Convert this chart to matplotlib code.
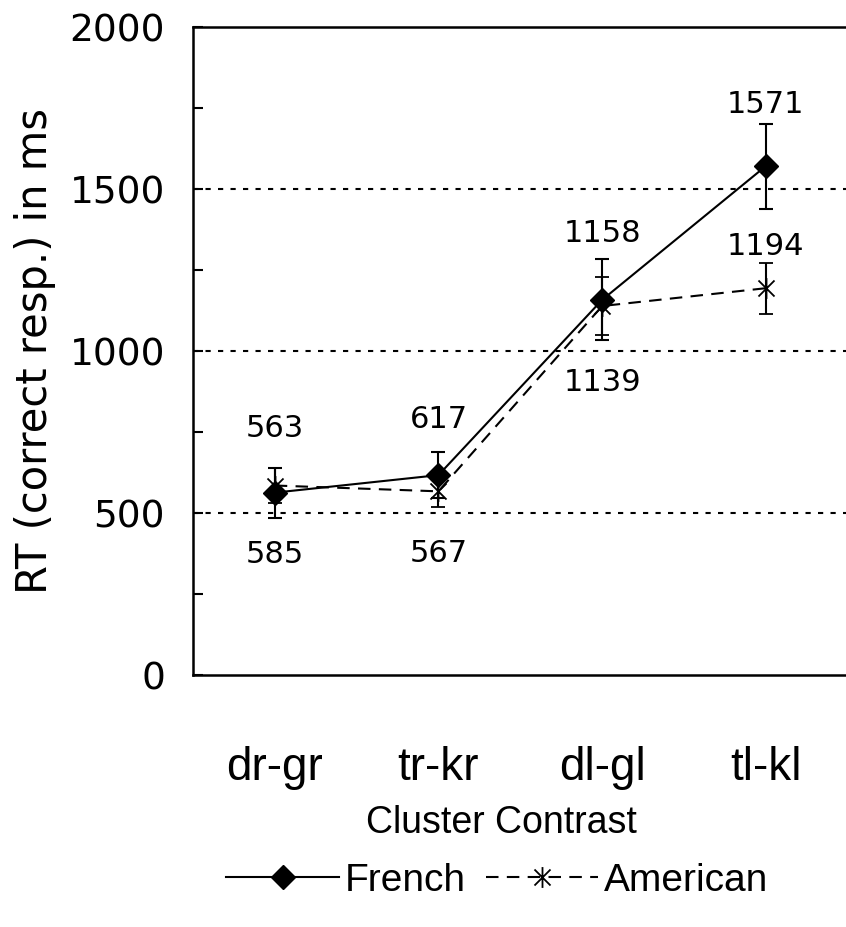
import numpy as np
import matplotlib
matplotlib.use('Agg')
import matplotlib.pyplot as plt
from matplotlib.path import Path
from matplotlib.lines import Line2D
from matplotlib.ticker import MultipleLocator

categories = ['dr-gr', 'tr-kr', 'dl-gl', 'tl-kl']
french = [563, 617, 1158, 1571]
french_err = [77, 72, 125, 131]
american = [585, 567, 1139, 1194]
american_err = [54, 49, 90, 79]

# label offsets in points (negative = above)
french_off = [-46, -40, -48, -44]
american_off = [50, 45, 55, -30]

narrow = ['Liberation Sans Narrow', 'Liberation Sans']

# star marker like excel: x with a vertical bar
star = Path([(-1, -1), (1, 1), (-1, 1), (1, -1), (0, -1.3), (0, 1.3)],
            [Path.MOVETO, Path.LINETO, Path.MOVETO, Path.LINETO, Path.MOVETO, Path.LINETO])

fig = plt.figure(figsize=(8.46, 9.27), dpi=100)
ax = fig.add_axes([0.228, 0.2718, 0.774, 0.699])

x = np.arange(len(categories))

for yv in [500, 1000, 1500]:
    ax.axhline(yv, color='black', lw=1.5, ls=(0, (2.5, 3.5)), zorder=1)

ax.errorbar(x, american, yerr=american_err, color='black', lw=1.5, ls=(0, (6, 4)),
            marker=star, ms=15, mew=1.3, mfc='none', capsize=5, capthick=1.5,
            elinewidth=1.5, zorder=3)
ax.errorbar(x, french, yerr=french_err, color='black', lw=1.5, ls='-',
            marker='D', ms=12.5, capsize=5, capthick=1.5, elinewidth=1.5,
            zorder=4)

for i in range(len(categories)):
    ax.annotate(str(french[i]), (x[i], french[i]), xytext=(0, -french_off[i]),
                textcoords='offset points', ha='center', va='center', fontsize=22)
    ax.annotate(str(american[i]), (x[i], american[i]), xytext=(0, -american_off[i]),
                textcoords='offset points', ha='center', va='center', fontsize=22)

ax.set_xlim(-0.5, 3.5)
ax.set_ylim(0, 2000)
ax.yaxis.set_major_locator(MultipleLocator(500))
ax.yaxis.set_minor_locator(MultipleLocator(250))
ax.set_xticks(x)
ax.set_xticklabels(categories, fontsize=33, family=narrow)
ax.tick_params(axis='x', length=0, pad=51)
ax.tick_params(axis='y', which='both', direction='in', length=7, width=1.5,
               labelsize=27, pad=20)
ax.spines['right'].set_visible(False)
for s in ['left', 'bottom', 'top']:
    ax.spines[s].set_linewidth(1.8)

ax.set_ylabel('RT (correct resp.) in ms', fontsize=30, labelpad=10)

fig.text(0.593, 0.112, 'Cluster Contrast', ha='center', va='center',
         fontsize=27, family=narrow)

handles = [Line2D([], [], color='black', lw=1.5, marker='D', ms=12.5),
           Line2D([], [], color='black', lw=1.5, ls=(0, (6, 4)), marker=star, ms=15, mew=1.3)]
fig.legend(handles, ['French', 'American'], loc='center', bbox_to_anchor=(0.588, 0.05),
           ncol=2, frameon=False, prop={'family': narrow, 'size': 28},
           handlelength=2.9, handletextpad=0.15, columnspacing=0.5)

fig.savefig('out.png', dpi=100)
